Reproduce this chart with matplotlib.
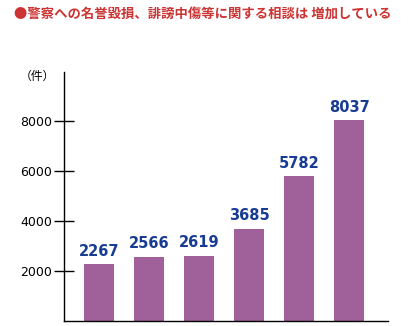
import matplotlib
matplotlib.use('Agg')
import matplotlib.pyplot as plt

plt.rcParams['font.family'] = ['Noto Sans CJK JP', 'DejaVu Sans']

# data
counts = [2267, 2566, 2619, 3685, 5782, 8037]
yticks = [2000, 4000, 6000, 8000]
title = '●警察への名誉毀損、誹謗中傷等に関する相談は 増加している'
unit = '（件）'

bar_color = '#a0619a'
label_color = '#183c94'

fig = plt.figure(figsize=(4.16, 3.26), dpi=100)
ax = fig.add_axes([64 / 416, 5 / 326, 324 / 416, 249 / 326])

x = list(range(len(counts)))
ax.bar(x, counts, width=0.6, color=bar_color)
for xi, v in zip(x, counts):
    ax.annotate(str(v), (xi, v), xytext=(0, 4), textcoords='offset points',
                ha='center', va='bottom', color=label_color,
                fontsize=10.5, fontweight='bold', family='DejaVu Sans')

ax.set_xlim(-0.7, 5.78)
ax.set_ylim(0, 9960)
ax.set_xticks([])
ax.set_yticks(yticks)
ax.set_yticklabels([str(t) for t in yticks], fontsize=9, family='DejaVu Sans')
ax.tick_params(axis='y', direction='inout', length=15, width=1, pad=1)
for s in ['top', 'right']:
    ax.spines[s].set_visible(False)
for s in ['left', 'bottom']:
    ax.spines[s].set_linewidth(1)

fig.text(20 / 416, 1 - 76 / 326, unit, fontsize=8.5, va='center', ha='left')
fig.text(14 / 416, 1 - 14 / 326, title, fontsize=9.6, fontweight='bold',
         color='#cc3333', va='center', ha='left')

fig.savefig('out.png', dpi=100)
